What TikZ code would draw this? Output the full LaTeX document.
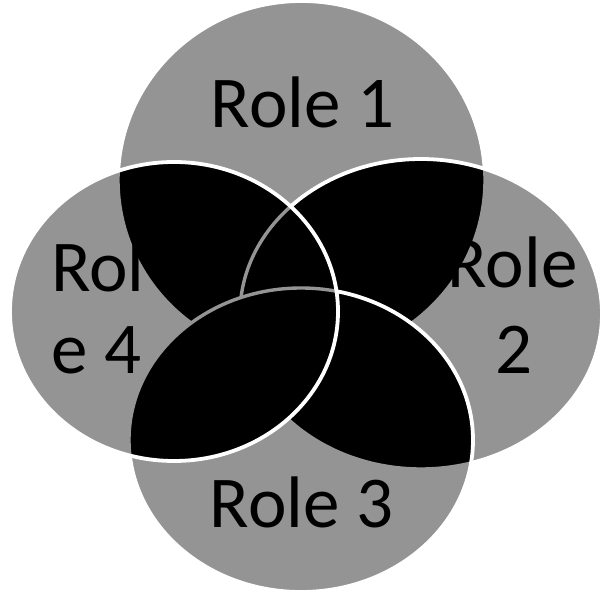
\documentclass[tikz,border=0pt]{standalone}
\usepackage{fontspec}
\setmainfont{Carlito}
\definecolor{rolegray}{gray}{0.58}
\begin{document}
\begin{tikzpicture}[x=1pt,y=-1pt,
  ellA/.style={x radius=183.5pt,y radius=179pt},
  ellB/.style={x radius=181pt,y radius=155pt},
  ellC/.style={x radius=172pt,y radius=152pt},
  ellD/.style={x radius=164pt,y radius=149.5pt},
  rolefill/.style={fill=rolegray},
  overlapfill/.style={fill=black},
  rimwhite/.style={draw=white,line width=3.8pt},
  rimgray/.style={draw=rolegray,line width=3.4pt},
  rolelabel/.style={font=\fontsize{73}{88}\selectfont,text=black,inner sep=0pt}]
\useasboundingbox (0,0) rectangle (602,593);
\coordinate (cA) at (301.5,180);
\coordinate (cB) at (421,314);
\coordinate (cC) at (301,440);
\coordinate (cD) at (174,311.5);
% shape 1 (Role 1)
\fill[rolefill] (cA) ellipse [ellA];
\draw[rimwhite] (cA) ellipse [ellA];
% shape 2 (Role 2)
\begin{scope}
  \clip (cB) ellipse [ellB];
  \fill[rolefill] (cB) ellipse [ellB];
  \fill[overlapfill] (cA) ellipse [ellA];
  \draw[rimgray] (cA) ellipse [ellA];
\end{scope}
\draw[rimwhite] (cB) ellipse [ellB];
% shape 3 (Role 3)
\begin{scope}
  \clip (cC) ellipse [ellC];
  \fill[rolefill] (cC) ellipse [ellC];
  \fill[overlapfill] (cA) ellipse [ellA];
  \draw[rimgray] (cA) ellipse [ellA];
  \fill[overlapfill] (cB) ellipse [ellB];
  \draw[rimgray] (cB) ellipse [ellB];
\end{scope}
\draw[rimwhite] (cC) ellipse [ellC];
% shape 4 (Role 4)
\begin{scope}
  \clip (cD) ellipse [ellD];
  \fill[rolefill] (cD) ellipse [ellD];
  \fill[overlapfill] (cA) ellipse [ellA];
  \draw[rimgray] (cA) ellipse [ellA];
  \fill[overlapfill] (cB) ellipse [ellB];
  \draw[rimgray] (cB) ellipse [ellB];
  \fill[overlapfill] (cC) ellipse [ellC];
  \draw[rimgray] (cC) ellipse [ellC];
\end{scope}
\draw[rimwhite] (cD) ellipse [ellD];
% labels
\node[rolelabel,anchor=base] (r1) at (302.5,128) {Role 1};
\node[rolelabel,anchor=base] (r3) at (301.5,527) {Role 3};
\node[rolelabel,anchor=base] (r4a) at (98,292) {Rol};
\node[rolelabel,anchor=base] (r4b) at (96.5,373) {e 4};
\node[rolelabel,anchor=base] (r2a) at (512.5,288) {Role};
\node[rolelabel,anchor=base] (r2b) at (514,373) {2};
\end{tikzpicture}
\end{document}
